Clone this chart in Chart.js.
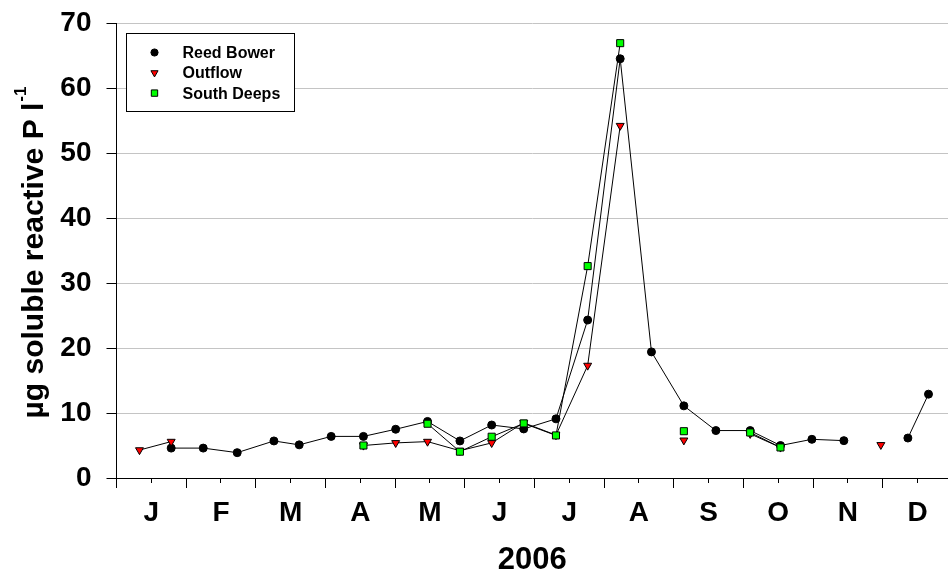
<!DOCTYPE html>
<html>
<head>
<meta charset="utf-8">
<script src="https://cdn.jsdelivr.net/npm/chart.js@4.4.1/dist/chart.umd.min.js"></script>
<style>
  html, body { margin: 0; padding: 0; background: #fff; overflow: hidden; }
  canvas { display: block; }
</style>
</head>
<body>
<canvas id="chart" width="948" height="576"></canvas>
<script>
// Sampling dates as fractional months since 1 Jan 2006 (0 = 1 Jan, 1 = 1 Feb ...)
const sampleMonths = [0.33, 0.785, 1.245, 1.733, 2.26, 2.623, 3.082, 3.545, 4.008, 4.465,
  4.93, 5.386, 5.846, 6.309, 6.764, 7.231, 7.68, 8.145, 8.605, 9.097,
  9.532, 9.983, 10.442, 10.973, 11.361, 11.657]

// µg soluble reactive P per litre; null = not sampled (breaks the line)
const reedBower = [null, 4.6, 4.6, 3.9, 5.7, 5.1, 6.4, 6.4, 7.5, 8.7,
  5.7, 8.15, 7.55, 9.1, 24.3, 64.5, 19.4, 11.1, 7.3, 7.3,
  5.0, 5.95, 5.75, null, 6.15, 12.9]
const outflow = [4.3, 5.6, null, null, null, null, null, 5.0, 5.4, 5.6,
  4.2, 5.4, 8.5, 6.6, 17.3, 54.2, null, 5.8, null, 6.8,
  4.7, null, null, 5.1, null, null]
const southDeeps = [null, null, null, null, null, null, null, 5.0, null, 8.35,
  4.05, 6.35, 8.4, 6.55, 32.6, 66.9, null, 7.2, null, 7.0,
  4.7, null, null, null, null, null]

const monthLabels = ["J", "F", "M", "A", "M", "J", "J", "A", "S", "O", "N", "D"]
const yTickValues = [0, 10, 20, 30, 40, 50, 60, 70]

const FONT = "'Liberation Sans', Arial, Helvetica, sans-serif"
const toPoints = (values) => sampleMonths.map((m, i) => ({ x: m, y: values[i] }))

// Keep the plot area exactly where we put it: no extra room for edge labels
const noScalePadding = (scale) => {
  scale.paddingLeft = 0
  scale.paddingRight = 0
  scale.paddingTop = 0
  scale.paddingBottom = 0
}

// Long tick marks at month boundaries (the short ones come from the axis itself)
const monthBoundaryTicks = {
  id: "monthBoundaryTicks",
  afterDraw(chart) {
    const { ctx, scales: { x } } = chart
    ctx.save()
    ctx.strokeStyle = "#000"
    ctx.lineWidth = 1
    for (let m = 0; m < monthLabels.length; m++) {
      const px = Math.round(x.getPixelForValue(m) - 0.5) + 0.5
      if (px > chart.width) continue
      ctx.beginPath()
      ctx.moveTo(px, x.top)
      ctx.lineTo(px, x.top + 10)
      ctx.stroke()
    }
    ctx.restore()
  }
}

// Rotated y-axis title with a real superscript
const yAxisTitle = {
  id: "yAxisTitle",
  afterDraw(chart) {
    const { ctx, chartArea } = chart
    const main = "\u00b5g soluble reactive P l"
    const sup = "-1"
    ctx.save()
    ctx.fillStyle = "#000"
    ctx.font = `bold 30px ${FONT}`
    const wMain = ctx.measureText(main).width
    ctx.font = `bold 17px ${FONT}`
    const wSup = ctx.measureText(sup).width
    const total = wMain + wSup + 1
    ctx.translate(43, (chartArea.top + chartArea.bottom) / 2 + 2)
    ctx.rotate(-Math.PI / 2)
    ctx.textBaseline = "alphabetic"
    ctx.textAlign = "left"
    ctx.font = `bold 30px ${FONT}`
    ctx.fillText(main, -total / 2, 0)
    ctx.font = `bold 17px ${FONT}`
    ctx.fillText(sup, -total / 2 + wMain + 1, -17)
    ctx.restore()
  }
}

// Boxed legend in the top-left corner of the plot
const boxedLegend = {
  id: "boxedLegend",
  afterDraw(chart) {
    const { ctx, chartArea } = chart
    const left = Math.round(chartArea.left + 9) + 0.5
    const top = Math.round(chartArea.top + 10) + 0.5
    ctx.save()
    ctx.fillStyle = "#fff"
    ctx.strokeStyle = "#000"
    ctx.lineWidth = 1
    ctx.fillRect(left, top, 168, 78)
    ctx.strokeRect(left, top, 168, 78)
    ctx.font = `bold 16px ${FONT}`
    ctx.textBaseline = "middle"
    chart.data.datasets.forEach((ds, i) => {
      const cy = top + 19 + i * 20.3
      ctx.fillStyle = ds.pointBackgroundColor
      ctx.strokeStyle = ds.pointBorderColor
      ctx.lineWidth = 1
      Chart.helpers.drawPoint(ctx, {
        pointStyle: ds.pointStyle,
        radius: ds.pointRadius * 0.9,
        rotation: ds.pointRotation || 0,
        borderWidth: 1
      }, left + 28, cy)
      ctx.fillStyle = "#000"
      ctx.fillText(ds.label, left + 56, cy + 1)
    })
    ctx.restore()
  }
}

const lineStyle = { borderColor: "#000", borderWidth: 1, pointBorderWidth: 1, tension: 0, spanGaps: false }

new Chart(document.getElementById("chart"), {
  type: "line",
  data: {
    datasets: [
      { ...lineStyle, label: "Reed Bower", data: toPoints(reedBower), order: 2,
        pointStyle: "circle", pointRadius: 4, pointBackgroundColor: "#000", pointBorderColor: "#000" },
      { ...lineStyle, label: "Outflow", data: toPoints(outflow), order: 1,
        pointStyle: "triangle", pointRotation: 180, pointRadius: 4.6, pointBackgroundColor: "#ff0000", pointBorderColor: "#000" },
      { ...lineStyle, label: "South Deeps", data: toPoints(southDeeps), order: 0,
        pointStyle: "rect", pointRadius: 5, pointBackgroundColor: "#00ff00", pointBorderColor: "#000" }
    ]
  },
  options: {
    responsive: false,
    animation: false,
    events: [],
    layout: { autoPadding: false, padding: { top: 23, left: 0, right: 0, bottom: 0 } },
    plugins: { legend: { display: false }, tooltip: { enabled: false } },
    scales: {
      x: {
        type: "linear",
        min: 0,
        max: 11.937,
        afterBuildTicks: (scale) => { scale.ticks = monthLabels.map((_, i) => ({ value: i + 0.5 })) },
        afterFit: (scale) => { scale.height = 98; noScalePadding(scale) },
        ticks: {
          autoSkip: false,
          maxRotation: 0,
          padding: 13,
          color: "#000",
          font: { family: FONT, size: 28, weight: "bold" },
          callback: (value) => monthLabels[Math.floor(value)]
        },
        grid: { drawOnChartArea: false, tickLength: 5, color: "#000" },
        border: { color: "#000", width: 1 },
        title: {
          display: true,
          text: "2006",
          color: "#000",
          font: { family: FONT, size: 31, weight: "bold", lineHeight: 1 },
          padding: { top: 0, bottom: 0 }
        }
      },
      y: {
        min: 0,
        max: 70,
        afterBuildTicks: (scale) => { scale.ticks = yTickValues.map((v) => ({ value: v })) },
        afterFit: (scale) => { scale.width = 116.5; noScalePadding(scale) },
        ticks: {
          padding: 15,
          color: "#000",
          font: { family: FONT, size: 28, weight: "bold" }
        },
        grid: {
          tickLength: 10,
          tickColor: "#000",
          color: (ctx) => (ctx.tick && ctx.tick.value === 0 ? "rgba(0,0,0,0)" : "#c4c4c4")
        },
        border: { color: "#000", width: 1 }
      }
    }
  },
  plugins: [monthBoundaryTicks, yAxisTitle, boxedLegend]
})
</script>
</body>
</html>
